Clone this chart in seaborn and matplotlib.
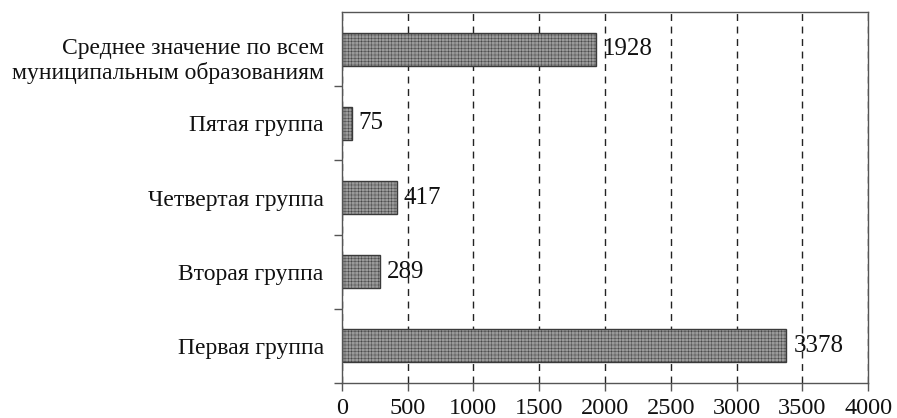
import matplotlib
matplotlib.use("Agg")
import matplotlib.pyplot as plt
import matplotlib.transforms as mtransforms
import seaborn as sns
import pandas as pd
from matplotlib.ticker import FixedLocator

categories = ["Среднее значение по всем\nмуниципальным образованиям",
              "Пятая группа", "Четвертая группа", "Вторая группа", "Первая группа"]
values = [1928, 75, 417, 289, 3378]
xticks = [0, 500, 1000, 1500, 2000, 2500, 3000, 3500, 4000]

sns.set_theme(style="white")
plt.rcParams['font.family'] = ['Liberation Serif', 'DejaVu Serif']
plt.rcParams['hatch.linewidth'] = 0.3

df = pd.DataFrame({"cat": categories, "val": values})

fig = plt.figure(figsize=(8.97, 4.18), dpi=100)
ax = fig.add_axes([0.381, 0.084, 0.587, 0.887])
sns.barplot(data=df, y="cat", x="val", order=categories, orient="h",
            color="#9a9a9a", width=0.45, ax=ax, saturation=1)
for p in ax.patches:
    p.set_edgecolor("#3a3a3a")
    p.set_linewidth(1.0)
    p.set_hatch("+++++")

ax.set_xlim(0, 4000)
ax.set_ylim(4.5, -0.5)
ax.set_xticks(xticks)
ax.set_xticklabels([str(t) for t in xticks], fontsize=17.5, color="#111111")
ax.set_xlabel("")
ax.set_ylabel("")
ax.tick_params(axis='y', which='major', length=0, labelsize=17, pad=13, labelcolor="#111111")
ax.yaxis.set_minor_locator(FixedLocator([0.5, 1.5, 2.5, 3.5, 4.5]))
ax.tick_params(axis='y', which='minor', length=6, width=1, color="#555555", direction='out', left=True)
ax.tick_params(axis='x', which='major', length=6, width=1, color="#555555", direction='out', bottom=True, pad=5)
ylabels = ax.get_yticklabels()
for lbl in ylabels:
    lbl.set_horizontalalignment('right')
    lbl.set_multialignment('right')
ylabels[0].set_linespacing(1.15)
ylabels[0].set_transform(ylabels[0].get_transform() +
                         mtransforms.ScaledTranslation(0, -0.08, fig.dpi_scale_trans))

ax.xaxis.grid(True, linestyle=(0, (5, 4)), color="#222222", linewidth=1)
ax.yaxis.grid(False)
ax.set_axisbelow(True)
for s in ax.spines.values():
    s.set_visible(True)
    s.set_color("#555555")
    s.set_linewidth(1)

for c in ax.containers:
    ax.bar_label(c, labels=[str(v) for v in values], padding=5, fontsize=18, color="#111111")

fig.savefig("out.png", dpi=100)
